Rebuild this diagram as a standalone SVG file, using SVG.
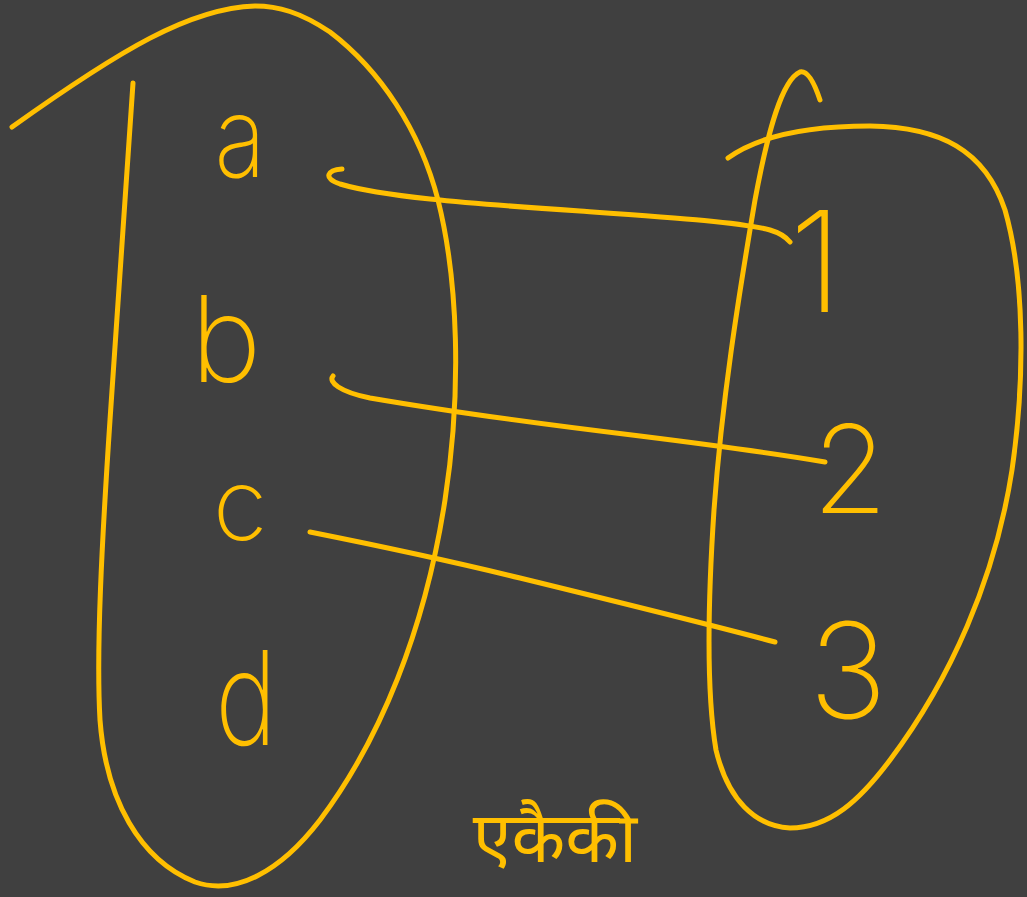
<svg xmlns="http://www.w3.org/2000/svg" width="1027" height="897" viewBox="0 0 1027 897">
  <style>
    .ink { fill: none; stroke: #FFBF00; stroke-width: 5; stroke-linecap: round; stroke-linejoin: round; }
    .lbl { fill: #FFBF00; font-family: Inter, "Open Sans", "Liberation Sans", sans-serif; font-weight: 200; text-anchor: middle; }
    .hin { fill: #FFBF00; font-family: "Noto Sans Devanagari", "Noto Sans", "Lohit Devanagari", sans-serif; font-weight: 400; text-anchor: middle; }
  </style>
  <rect x="0" y="0" width="1027" height="897" fill="#404040"/>

  <g id="set-left">
    <path class="ink" d="M133,83 C126,180 118,300 110,420 C102,540 96,650 100,720 C106,800 140,860 195,882 C235,896 280,872 320,820 C380,740 425,630 445,500 C462,390 458,280 438,200 C420,130 380,70 330,32 C300,12 278,6 255,6 C190,8 120,50 12,127"/>
  </g>
  <g id="set-right">
    <path class="ink" d="M728,158 C760,135 810,126 870,126 C940,127 985,150 1005,210 C1025,280 1025,380 1012,470 C995,580 950,680 890,760 C860,800 830,828 790,828 C755,826 728,800 716,750 C706,690 708,600 714,510 C722,400 738,300 755,200 C768,130 782,80 800,72 C808,70 815,85 820,100"/>
  </g>

  <g id="elem-a"><text class="lbl" x="240" y="177" font-size="112" transform="translate(240 0) scale(0.85 1) translate(-240 0)">a</text></g>
  <g id="elem-b"><text class="lbl" x="226" y="382" font-size="120">b</text></g>
  <g id="elem-c"><text class="lbl" x="240" y="540" font-size="100">c</text></g>
  <g id="elem-d"><text class="lbl" x="246" y="745" font-size="130" transform="translate(246 0) scale(0.8 1) translate(-246 0)">d</text></g>
  <g id="elem-1"><text class="lbl" x="816" y="312" font-size="140">1</text></g>
  <g id="elem-2"><text class="lbl" x="850" y="513" font-size="122">2</text></g>
  <g id="elem-3"><text class="lbl" x="848" y="718" font-size="132">3</text></g>

  <g id="connectors">
    <path class="ink" d="M342,169 C328,170 322,178 340,184 C380,196 460,203 580,211 C680,218 740,222 770,230 C780,233 786,237 790,242"/>
    <path class="ink" d="M333,376 C328,382 340,392 370,398 C440,410 540,424 640,436 C720,446 790,456 825,462"/>
    <path class="ink" d="M310,532 C360,542 430,556 520,578 C610,600 700,622 775,642"/>
  </g>

  <g id="caption"><text class="hin" x="555" y="862" font-size="70">एकैकी</text></g>
</svg>
